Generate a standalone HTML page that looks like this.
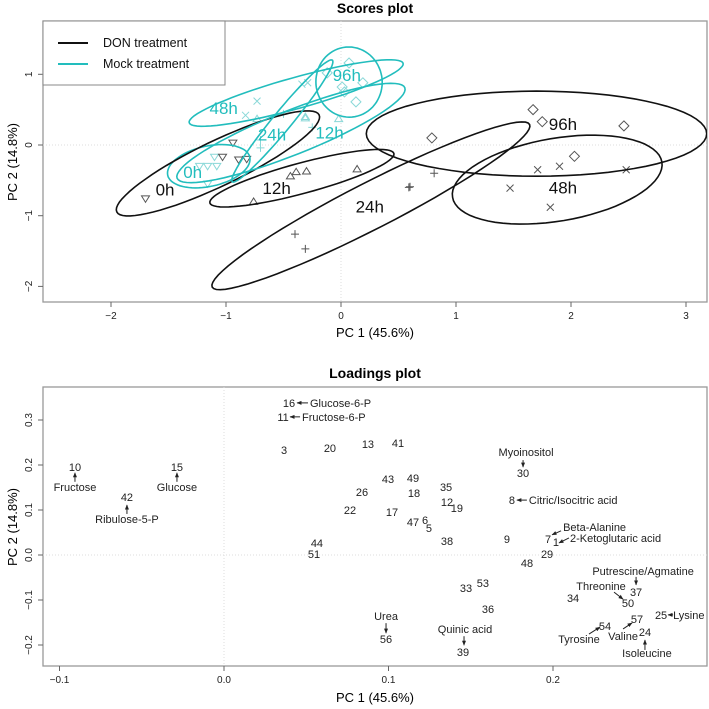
<!DOCTYPE html>
<html><head><meta charset="utf-8">
<style>
html,body{margin:0;padding:0;background:#fff;}
svg{display:block;font-family:"Liberation Sans",Arial,sans-serif;}
</style></head>
<body>
<svg id="chart" width="709" height="709" viewBox="0 0 709 709" xmlns="http://www.w3.org/2000/svg">
<text x="375" y="13" text-anchor="middle" font-size="14" font-weight="bold">Scores plot</text>
<text x="375" y="378" text-anchor="middle" font-size="14" font-weight="bold">Loadings plot</text>
<text x="375" y="337" text-anchor="middle" font-size="13">PC 1 (45.6%)</text>
<text x="375" y="702" text-anchor="middle" font-size="13">PC 1 (45.6%)</text>
<text transform="translate(17,162) rotate(-90)" text-anchor="middle" font-size="13">PC 2 (14.8%)</text>
<text transform="translate(17,527) rotate(-90)" text-anchor="middle" font-size="13">PC 2 (14.8%)</text>
</svg>
<script>
// ---------- Scores data ----------
const groups = ['0h','12h','24h','48h','96h'];
const donX = [[-1.70,-0.94,-1.03,-0.89,-0.82],[-0.76,-0.44,-0.39,-0.30,0.14],[-0.40,-0.31,0.81,0.59,0.60],[1.47,1.71,1.90,1.82,2.48],[1.67,1.75,0.79,2.03,2.46]];
const donY = [[-0.76,0.03,-0.17,-0.21,-0.20],[-0.80,-0.44,-0.38,-0.37,-0.34],[-1.26,-1.47,-0.40,-0.60,-0.59],[-0.61,-0.35,-0.30,-0.88,-0.35],[0.50,0.33,0.10,-0.16,0.27]];
const mockX = [[-1.23,-1.16,-1.10,-1.08,-1.16],[-0.73,-0.31,-0.02,-0.31],[-0.70,-0.50,-0.25,-0.70],[-0.73,-0.83,-0.34,-0.29],[0.07,0.01,0.03,0.13,0.19,-0.12]];
const mockY = [[-0.30,-0.30,-0.17,-0.30,-0.55],[0.37,0.40,0.37,0.38],[-0.04,0.44,0.25,0.07],[0.62,0.42,0.86,0.88],[1.16,0.82,0.75,0.61,0.88,1.02]];
// ellipses: center, major half-vector (data), minor ratio
const donEllC = [[-1.07,-0.26],[-0.34,-0.47],[0.26,-0.86],[1.88,-0.49],[1.70,0.16]];
const donEllM = [[0.88,0.686],[0.80,0.35],[1.38,1.15],[0.91,0.25],[1.48,0.0]];
const donEllR = [0.2,0.16,0.13,0.39,0.25];
const mockEllC = [[-1.15,-0.30],[-0.435,0.17],[-0.51,0.34],[-0.39,0.735],[0.07,0.89]];
const mockEllM = [[0.357,0.127],[0.99,0.64],[0.435,0.86],[0.93,0.42],[0.287,0.04]];
const mockEllR = [0.48,0.18,0.12,0.14,1.06];
const donLab = [[-1.53,-0.63],[-0.56,-0.61],[0.25,-0.87],[1.93,-0.60],[1.93,0.30]];
const mockLab = [[-1.29,-0.38],[-0.10,0.18],[-0.60,0.15],[-1.02,0.52],[0.05,0.99]];
const scoreXTicks = [-2,-1,0,1,2,3];
const scoreYTicks = [-2,-1,0,1];

// ---------- Loadings data ----------
const loadNames = ['10','15','42','16','11','3','20','22','44','51','13','41','30','43','49','26','18','35','12','19','8','17','47','6','5','38','9','7','1','29','48','37','50','34','33','53','36','25','57','24','54','56','39'];
const loadX = [-0.0906,-0.0286,-0.059,0.0395,0.0359,0.0365,0.0644,0.0766,0.0565,0.0547,0.0875,0.1058,0.1818,0.0997,0.1149,0.0839,0.1155,0.135,0.1356,0.1416,0.175,0.1021,0.1149,0.1222,0.1246,0.1356,0.172,0.197,0.2018,0.1964,0.1842,0.2505,0.2456,0.2122,0.1471,0.1574,0.1605,0.2657,0.2511,0.2559,0.2316,0.0985,0.1453];
const loadY = [0.196,0.196,0.129,0.338,0.307,0.233,0.238,0.1,0.027,0.002,0.247,0.249,0.182,0.169,0.171,0.14,0.138,0.151,0.118,0.104,0.122,0.096,0.073,0.078,0.06,0.031,0.036,0.036,0.029,0.002,-0.018,-0.082,-0.107,-0.096,-0.073,-0.062,-0.12,-0.133,-0.142,-0.171,-0.158,-0.187,-0.216];
const loadXTicks = [-0.1,0.0,0.1,0.2];
const loadYTicks = [-0.2,-0.1,0.0,0.1,0.2,0.3];
// annotations: [number, name, text dx, dy, anchor, arrow x1,y1,x2,y2]
const annots = [
 ['10','Fructose',0,24,'middle',0,15,0,6],
 ['15','Glucose',0,24,'middle',0,15,0,6],
 ['42','Ribulose-5-P',0,26,'middle',0,17,0,8],
 ['16','Glucose-6-P',21,4,'start',19,0,8,0],
 ['11','Fructose-6-P',19,4,'start',17,0,7,0],
 ['30','Myoinositol',3,-17,'middle',0,-13,0,-6],
 ['8','Citric/Isocitric acid',17,4,'start',15,0,5,0],
 ['7','Beta-Alanine',15,-8,'start',13,-8,4,-4],
 ['1','2-Ketoglutaric acid',14,0,'start',13,-4,3,1],
 ['37','Putrescine/Agmatine',7,-17,'middle',0,-15,0,-7],
 ['50','Threonine',-27,-13,'middle',-14,-11,-5,-4],
 ['25','Lysine',12,4,'start',12,0,7,0],
 ['57','Valine',-14,21,'middle',-14,10,-5,4],
 ['24','Isoleucine',2,25,'middle',0,18,0,8],
 ['54','Tyrosine',-26,17,'middle',-16,8,-5,1],
 ['56','Urea',0,-19,'middle',0,-16,0,-6],
 ['39','Quinic acid',2,-19,'middle',1,-16,1,-7]
];

const NS='http://www.w3.org/2000/svg';
const svg=document.getElementById('chart');
function mk(tag,attrs,parent){const e=document.createElementNS(NS,tag);for(const k in attrs)e.setAttribute(k,attrs[k]);(parent||svg).appendChild(e);return e;}

// Axis functions
const sx=v=>341+v*115, sy=v=>145-v*70.7;
const lx=v=>224+v*1645, ly=v=>555-v*450;

defs=mk('defs',{});
const mrk=mk('marker',{id:'ah',viewBox:'0 0 10 10',refX:'9',refY:'5',markerWidth:'5',markerHeight:'5',orient:'auto-start-reverse'},defs);
mk('path',{d:'M0,1 L10,5 L0,9 z',fill:'#222'},mrk);

function frame(x0,y0,x1,y1,name){
  const r=mk('rect',{x:x0,y:y0,width:x1-x0,height:y1-y0,fill:'none',stroke:'#999','stroke-width':1.3});
  
  
}
frame(43,21,707,302,'scores-plot-area');
frame(43,387,707,666,'loadings-plot-area');

// grid zero lines
let g;
g=mk('line',{x1:sx(0),x2:sx(0),y1:21,y2:302,stroke:'#ddd','stroke-dasharray':'1,2'});
 
g=mk('line',{x1:43,x2:707,y1:sy(0),y2:sy(0),stroke:'#ddd','stroke-dasharray':'1,2'});
 
g=mk('line',{x1:lx(0),x2:lx(0),y1:387,y2:666,stroke:'#ddd','stroke-dasharray':'1,2'});
 
g=mk('line',{x1:43,x2:707,y1:ly(0),y2:ly(0),stroke:'#ddd','stroke-dasharray':'1,2'});
 

function xticks(ticks,f,ybase,name,fmt){
  ticks.forEach(t=>{
    const x=f(t);
    const l=mk('line',{x1:x,x2:x,y1:ybase,y2:ybase+5,stroke:'#666'});
     
    const tx=mk('text',{x:x,y:ybase+17,'text-anchor':'middle','font-size':10,fill:'#222'});
    tx.textContent=fmt(t);
     
  });
}
function yticks(ticks,f,name,fmt){
  ticks.forEach(t=>{
    const y=f(t);
    const l=mk('line',{x1:38,x2:43,y1:y,y2:y,stroke:'#666'});
     
    const tx=mk('text',{transform:`translate(32,${y}) rotate(-90)`,'text-anchor':'middle','font-size':10,fill:'#222'});
    tx.textContent=fmt(t);
     
  });
}
xticks(scoreXTicks,sx,302,'scores-x',t=>String(t).replace('-','\u2212'));
yticks(scoreYTicks,sy,'scores-y',t=>String(t).replace('-','\u2212'));
xticks(loadXTicks,lx,666,'loadings-x',t=>t.toFixed(1).replace('-','\u2212'));
yticks(loadYTicks,ly,'loadings-y',t=>t.toFixed(1).replace('-','\u2212'));

// clip for scores
const cp=mk('clipPath',{id:'sclip'},defs);
mk('rect',{x:43,y:21,width:664,height:281},cp);
const sg=mk('g',{'clip-path':'url(#sclip)'});

function ellipse(c,m,r,color,name){
  const cx=sx(c[0]),cy=sy(c[1]);
  const mx=sx(c[0]+m[0])-cx, my=sy(c[1]+m[1])-cy;
  const px=-my*r, py=mx*r;
  let d='';
  for(let i=0;i<=72;i++){const t=i/72*2*Math.PI;
    const x=cx+Math.cos(t)*mx+Math.sin(t)*px, y=cy+Math.cos(t)*my+Math.sin(t)*py;
    d+=(i?'L':'M')+x.toFixed(1)+','+y.toFixed(1);}
  const p=mk('path',{d:d+'Z',fill:'none',stroke:color,'stroke-width':1.6},sg);
  
  
}
function marker(gi,x,y,color,name){
  const s=4;let e;
  if(gi===0) e=mk('path',{d:`M${x-s},${y-s*0.7}L${x+s},${y-s*0.7}L${x},${y+s*0.9}Z`,fill:'none',stroke:color},sg);
  else if(gi===1) e=mk('path',{d:`M${x-s},${y+s*0.7}L${x+s},${y+s*0.7}L${x},${y-s*0.9}Z`,fill:'none',stroke:color},sg);
  else if(gi===2) e=mk('path',{d:`M${x-s},${y}L${x+s},${y}M${x},${y-s}L${x},${y+s}`,fill:'none',stroke:color},sg);
  else if(gi===3) e=mk('path',{d:`M${x-3.5},${y-3.5}L${x+3.5},${y+3.5}M${x-3.5},${y+3.5}L${x+3.5},${y-3.5}`,fill:'none',stroke:color},sg);
  else e=mk('path',{d:`M${x},${y-s-1}L${x+s+1},${y}L${x},${y+s+1}L${x-s-1},${y}Z`,fill:'none',stroke:color},sg);
  
  
}
const CY='#22bdbd', CYP='#8ad8d8', DK='#111', DKP='#555';
groups.forEach((gname,i)=>{
  mockX[i].forEach((v,j)=>marker(i,sx(v),sy(mockY[i][j]),CYP,'mock-'+gname+'-point'));
  donX[i].forEach((v,j)=>marker(i,sx(v),sy(donY[i][j]),DKP,'don-'+gname+'-point'));
});
groups.forEach((gname,i)=>{
  ellipse(mockEllC[i],mockEllM[i],mockEllR[i],CY,'mock-'+gname+'-ellipse');
  ellipse(donEllC[i],donEllM[i],donEllR[i],DK,'don-'+gname+'-ellipse');
});
groups.forEach((gname,i)=>{
  let t=mk('text',{x:sx(mockLab[i][0]),y:sy(mockLab[i][1])+6,'text-anchor':'middle','font-size':17,fill:CY},sg);
  t.textContent=gname;
   
  t=mk('text',{x:sx(donLab[i][0]),y:sy(donLab[i][1])+6,'text-anchor':'middle','font-size':17,fill:DK},sg);
  t.textContent=gname;
   
});

// legend
const lg=mk('g',{});
 
mk('rect',{x:43,y:21,width:182,height:64,fill:'#fff',stroke:'#888','stroke-width':1},lg);
let le=mk('line',{x1:58,x2:88,y1:43,y2:43,stroke:DK,'stroke-width':2},lg);
 
le=mk('line',{x1:58,x2:88,y1:64,y2:64,stroke:CY,'stroke-width':2},lg);
 
le=mk('text',{x:103,y:47,'font-size':12.5,fill:'#111'},lg); le.textContent='DON treatment';
 
le=mk('text',{x:103,y:68,'font-size':12.5,fill:'#111'},lg); le.textContent='Mock treatment';
 

// loadings labels
loadNames.forEach((n,i)=>{
  const t=mk('text',{x:lx(loadX[i]),y:ly(loadY[i])+4,'text-anchor':'middle','font-size':11,fill:'#222'});
  t.textContent=n;
  
  
});
annots.forEach(a=>{
  const i=loadNames.indexOf(a[0]);
  const x=lx(loadX[i]), y=ly(loadY[i]);
  const t=mk('text',{x:x+a[2],y:y+a[3],'text-anchor':a[4],'font-size':11,fill:'#222'});
  t.textContent=a[1];
  
  
  const l=mk('line',{x1:x+a[5],y1:y+a[6],x2:x+a[7],y2:y+a[8],stroke:'#222','stroke-width':1,'marker-end':'url(#ah)'});
  
  
});
</script>
</body></html>
